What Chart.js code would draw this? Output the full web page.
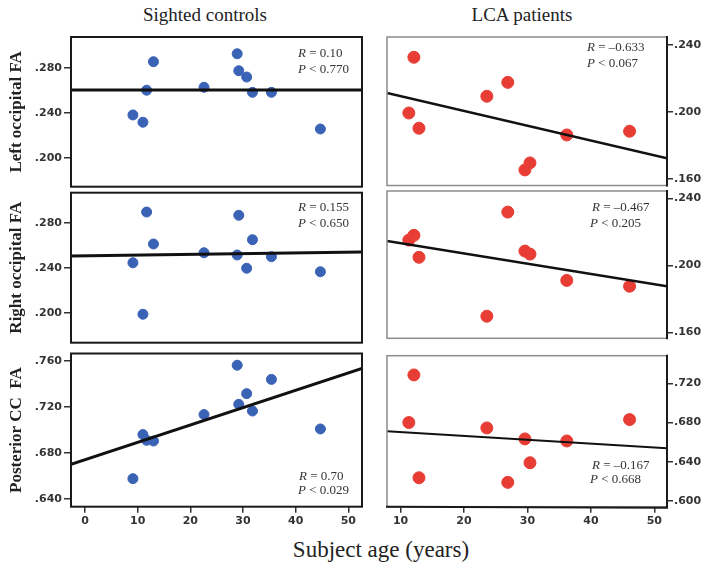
<!DOCTYPE html>
<html>
<head>
<meta charset="utf-8">
<script src="https://cdn.jsdelivr.net/npm/chart.js@4/dist/chart.umd.min.js"></script>
<style>
  body { margin: 0; background: #fff; width: 714px; height: 571px; position: relative; overflow: hidden;
         font-family: "Liberation Serif", "Times New Roman", serif; color: #222; }
  canvas { position: absolute; }
  .t { position: absolute; white-space: nowrap; }
  .head { font-size: 19px; line-height: 20px; transform: translateX(-50%); }
  .note { font-size: 13px; line-height: 16px; color: #333; }
</style>
</head>
<body>

<canvas id="c1" width="372" height="174" style="left:0;top:25px"></canvas>
<canvas id="c2" width="372" height="174" style="left:0;top:181px"></canvas>
<canvas id="c3" width="372" height="195" style="left:0;top:342px"></canvas>
<canvas id="c4" width="334" height="173" style="left:380px;top:25px"></canvas>
<canvas id="c5" width="334" height="171" style="left:380px;top:179px"></canvas>
<canvas id="c6" width="334" height="193" style="left:380px;top:344px"></canvas>

<div class="t head" style="left:205px;top:5px">Sighted controls</div>
<div class="t head" style="left:522px;top:5px">LCA patients</div>
<div class="t" style="left:381px;top:537px;font-size:23px;line-height:26px;transform:translateX(-50%)">Subject age (years)</div>

<div class="t note" style="left:298px;top:45px"><i>R</i> = 0.10</div>
<div class="t note" style="left:298px;top:61px"><i>P</i> &lt; 0.770</div>
<div class="t note" style="left:298px;top:199px"><i>R</i> = 0.155</div>
<div class="t note" style="left:298px;top:215px"><i>P</i> &lt; 0.650</div>
<div class="t note" style="left:299px;top:468px"><i>R</i> = 0.70</div>
<div class="t note" style="left:298px;top:482px"><i>P</i> &lt; 0.029</div>
<div class="t note" style="left:587px;top:39px"><i>R</i> = –0.633</div>
<div class="t note" style="left:587px;top:55px"><i>P</i> &lt; 0.067</div>
<div class="t note" style="left:592px;top:199px"><i>R</i> = –0.467</div>
<div class="t note" style="left:590px;top:215px"><i>P</i> &lt; 0.205</div>
<div class="t note" style="left:592px;top:457px"><i>R</i> = –0.167</div>
<div class="t note" style="left:590px;top:471px"><i>P</i> &lt; 0.668</div>

<script>
// ages (years)
const ctrlAge = [9.1, 11.0, 11.7, 13.0, 22.6, 28.9, 29.2, 30.7, 31.8, 35.4, 44.7];
const lcaAge = [11.3, 12.1, 12.9, 23.6, 26.9, 29.6, 30.4, 36.2, 46.1];

// sighted controls FA
const ctrlLeftOcc = [.238, .2315, .260, .2853, .2626, .2924, .2773, .2717, .2581, .2581, .2255];
const ctrlRightOcc = [.2444, .1986, .2895, .2611, .2533, .2513, .2866, .2395, .2649, .2498, .2364];
const ctrlPostCC = [.6577, .696, .691, .6904, .7134, .7563, .7223, .7316, .7165, .744, .7009];

// LCA patients FA
const lcaLeftOcc = [.1994, .2327, .1903, .2094, .2177, .1654, .1696, .1863, .1885];
const lcaRightOcc = [.2151, .2179, .2048, .1696, .2318, .2085, .2067, .1910, .1875];
const lcaPostCC = [.680, .7285, .6237, .6745, .619, .6633, .639, .6612, .683];

// regression line ends [at x min, at x max]
const fitCtrlLeft = [.2602, .2602];
const fitCtrlRight = [.2504, .2540];
const fitCtrlCC = [.6702, .7536];
const fitLcaLeft = [.2113, .1724];
const fitLcaRight = [.2145, .1875];
const fitLcaCC = [.6711, .6537];

// axis ranges and ticks
const ctrlX = [-2.66, 52.6];
const lcaX = [7.86, 52.0];
const ctrlXTicks = [0, 10, 20, 30, 40, 50];
const lcaXTicks = [10, 20, 30, 40, 50];
const occTicks = [.200, .240, .280];
const lcaOccTicks = [.160, .200, .240];
const ccTicks = [.640, .680, .720, .760];
const lcaCCTicks = [.600, .640, .680, .720];

const tickFont = { family: 'DejaVu Sans', size: 11, weight: 'bold' };
const fmt = v => v.toFixed(3).replace(/^0/, '');

const boxPlugin = {
  id: 'box',
  afterDatasetsDraw(chart, args, opts) {
    const { ctx, chartArea: a } = chart;
    ctx.save();
    ctx.lineWidth = opts.width;
    ctx.strokeStyle = opts.color;
    ctx.strokeRect(a.left, a.top, a.right - a.left, a.bottom - a.top);
    if (opts.right) {
      ctx.strokeStyle = '#1a1a1a';
      ctx.lineWidth = 2;
      ctx.beginPath();
      ctx.moveTo(a.right, a.top - 1);
      ctx.lineTo(a.right, a.bottom + 1);
      if (opts.bottom) ctx.lineTo(a.left - 1, a.bottom);
      ctx.stroke();
    }
    ctx.restore();
  }
};

function panel(id, ages, vals, fit, o) {
  const pts = ages.map((x, i) => ({ x: x, y: vals[i] }));
  const line = [{ x: o.xr[0], y: fit[0] }, { x: o.xr[1], y: fit[1] }];
  const xScale = {
    type: 'linear', min: o.xr[0], max: o.xr[1], display: !!o.xTicks,
    border: { display: false },
    grid: { drawOnChartArea: false, tickLength: 6, color: '#333', lineWidth: 1.5 },
    ticks: { font: tickFont, color: '#333', padding: 2, maxRotation: 0 }
  };
  if (o.xTicks) {
    xScale.afterBuildTicks = s => { s.ticks = o.xTicks.map(v => ({ value: v })); };
    xScale.afterFit = s => { s.height = 26; };
  }
  new Chart(document.getElementById(id), {
    type: 'scatter',
    data: {
      datasets: [
        { data: line, showLine: true, borderColor: '#111', borderWidth: o.lw, pointRadius: 0 },
        { data: pts, backgroundColor: o.color, borderColor: o.color, pointRadius: o.r, pointHoverRadius: o.r }
      ]
    },
    options: {
      responsive: false, animation: false, events: [], devicePixelRatio: 1,
      layout: { padding: o.pad },
      plugins: {
        legend: { display: false }, tooltip: { enabled: false },
        box: { color: o.boxColor, width: o.boxW, right: o.side === 'right', bottom: !!o.xTicks }
      },
      scales: {
        x: xScale,
        y: {
          type: 'linear', position: o.side, min: o.yr[0], max: o.yr[1],
          afterBuildTicks: s => { s.ticks = o.yTicks.map(v => ({ value: v })); },
          afterFit: s => { s.width = o.yw; },
          border: { display: false },
          grid: { drawOnChartArea: false, tickLength: o.side === 'left' ? 7 : 6, color: '#333', lineWidth: 1.5 },
          ticks: { font: tickFont, color: '#333', padding: o.side === 'left' ? 2 : 1, callback: v => fmt(v) },
          title: {
            display: !!o.title, text: o.title || '', color: '#222', padding: { top: 6, bottom: 0 },
            font: { family: 'Liberation Serif', size: 17, weight: 'bold' }
          }
        }
      }
    },
    plugins: [boxPlugin]
  });
}

const left = { side: 'left', yw: 71, xr: ctrlX, color: '#3a62b5', r: 5, lw: 3, boxColor: '#1a1a1a', boxW: 2 };
const right = { side: 'right', yw: 47, xr: lcaX, color: '#e83d35', r: 6, lw: 2.5, boxColor: '#8c8c8c', boxW: 1.5 };

panel('c1', ctrlAge, ctrlLeftOcc, fitCtrlLeft, Object.assign({}, left, {
  yr: [.1742, .3073], yTicks: occTicks, title: 'Left occipital FA', pad: { left: 0, right: 10, top: 12, bottom: 12.3 } }));
panel('c2', ctrlAge, ctrlRightOcc, fitCtrlRight, Object.assign({}, left, {
  yr: [.1733, .3067], yTicks: occTicks, title: 'Right occipital FA', pad: { left: 0, right: 10, top: 11.7, bottom: 12.3 } }));
panel('c3', ctrlAge, ctrlPostCC, fitCtrlCC, Object.assign({}, left, {
  yr: [.6333, .7665], yTicks: ccTicks, xTicks: ctrlXTicks, title: 'Posterior CC  FA', pad: { left: 0, right: 10, top: 11.5, bottom: 4.3 } }));
panel('c4', lcaAge, lcaLeftOcc, fitLcaLeft, Object.assign({}, right, {
  yr: [.1561, .2448], yTicks: lcaOccTicks, pad: { left: 4, right: 0, top: 12, bottom: 12.5 } }));
panel('c5', lcaAge, lcaRightOcc, fitLcaRight, Object.assign({}, right, {
  yr: [.1564, .2444], yTicks: lcaOccTicks, pad: { left: 4, right: 0, top: 12, bottom: 11.7 } }));
panel('c6', lcaAge, lcaPostCC, fitLcaCC, Object.assign({}, right, {
  yr: [.5942, .7481], yTicks: lcaCCTicks, xTicks: lcaXTicks, lw: 2, pad: { left: 4, right: 0, top: 11.7, bottom: 4.3 } }));
</script>
</body>
</html>
